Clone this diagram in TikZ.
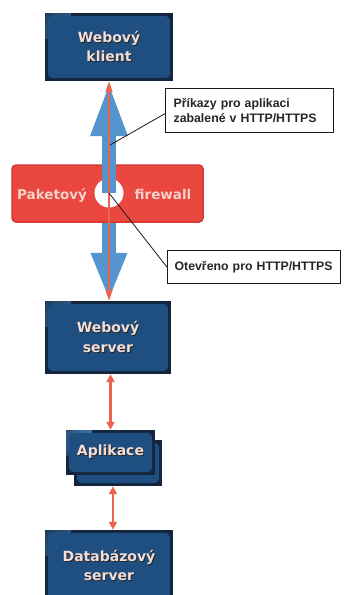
\documentclass[tikz,border=0pt]{standalone}
\usepackage{fontspec}
\setmainfont{DejaVu Sans}
\newfontfamily\libsans{Liberation Sans}
\usetikzlibrary{arrows.meta}
\definecolor{boxblue}{HTML}{1F4E80}
\definecolor{boxdark}{HTML}{14263D}
\definecolor{boxlight}{HTML}{4A90D0}
\definecolor{boxtext}{HTML}{F3DDD6}
\definecolor{arrblue}{HTML}{5595CE}
\definecolor{fwred}{HTML}{E9473F}
\definecolor{fwedge}{HTML}{D23A33}
\definecolor{fwtxt}{HTML}{F6D2CA}
\definecolor{linered}{HTML}{EA6450}
\definecolor{notedark}{HTML}{1B1B1B}
\definecolor{notetext}{HTML}{262626}
\newcommand\shd[1]{\leavevmode\rlap{\kern0.9pt\raisebox{-0.9pt}{\textcolor{black!85}{#1}}}#1}
\begin{document}
\begin{tikzpicture}[x=1pt,y=-1pt,
  srvbox/.style={rectangle, fill=boxdark, inner sep=0pt, text=boxtext,
    font=\bfseries\fontsize{14}{19.5}\selectfont, align=center,
    path picture={
      \shade[inner color=boxlight, outer color=boxdark]
        (path picture bounding box.north west) circle (26pt);
      \fill[boxblue, rounded corners=5pt]
      ([shift={(2.8pt,-2.8pt)}]path picture bounding box.north west) rectangle
      ([shift={(-2.8pt,2.8pt)}]path picture bounding box.south east);}},
  fwbox/.style={rectangle, rounded corners=4pt, fill=fwred, draw=fwedge, line width=1.5pt},
  fwlabel/.style={text=fwtxt, font=\bfseries\fontsize{13.5}{16}\selectfont, inner sep=0pt},
  note/.style={draw=notedark, line width=1.3pt, fill=white, text=notetext,
    font=\libsans\bfseries\fontsize{12.3}{15.5}\selectfont, align=left,
    inner ysep=0pt, anchor=north west},
  callline/.style={notedark, line width=0.8pt},
  conn/.style={linered, line width=2.2pt, {Triangle[width=8pt,length=8pt]}-{Triangle[width=8pt,length=8pt]}}
]
\useasboundingbox (0,0) rectangle (345,595);
\fill[white] (0,0) rectangle (345,595);

% server boxes
\node[srvbox, minimum width=128pt, minimum height=68pt] (klient) at (109,47) {\shd{Webový}\\\shd{klient}};
\node[srvbox, minimum width=126pt, minimum height=73pt] (server) at (108,337.5) {\shd{Webový}\\\shd{server}};
\node[srvbox, minimum width=88pt, minimum height=46pt] (appback) at (118,463) {};
\node[srvbox, minimum width=89pt, minimum height=45pt] (app) at (110.5,452.5) {\shd{Aplikace}};
\node[srvbox, minimum width=128pt, minimum height=72pt] (db) at (109,566) {\shd{Databázový}\\\shd{server}};

% big blue double arrow
\draw[arrblue, line width=14pt, {Triangle[width=33pt,length=55pt]}-{Triangle[width=33pt,length=48pt]}]
  (klient.south) -- (klient.south |- server.north);

% firewall
\node[fwbox, minimum width=191pt, minimum height=57pt] (fw) at (107.5,193.5) {};
\node[fwlabel, anchor=base] (fwl) at (52,199) {Paketový};
\node[fwlabel, anchor=base] (fwr) at (163,199) {firewall};
\node[circle, fill=white, minimum size=29pt, inner sep=0pt] (hole) at (109,193) {};
\draw[arrblue, line width=14pt] (hole |- fw.north) -- (hole.center);

% thin red line
\draw[linered, line width=1.6pt, {Triangle[width=7pt,length=11pt]}-{Triangle[width=7pt,length=11pt]}]
  (klient.south) -- (klient.south |- server.north);

% callouts
\node[note, inner xsep=8pt, text width=152pt, minimum height=44pt] (note1) at (165,88) {Příkazy pro aplikaci\\zabalené v HTTP/HTTPS};
\node[note, inner xsep=5pt, text width=163pt, minimum height=33pt] (note2) at (167,250) {\hspace*{2pt}Otevřeno pro HTTP/HTTPS};
\coordinate (p1) at (110,145);
\draw[callline] (p1) -- ([yshift=-3pt]note1.west);
\draw[callline] (hole.center) -- (note2.west);

% lower connectors
\draw[conn] (app.north |- server.south) -- (app.north);
\draw[conn] ([xshift=-5pt]appback.south) -- ([xshift=-5pt]appback.south |- db.north);
\end{tikzpicture}
\end{document}
